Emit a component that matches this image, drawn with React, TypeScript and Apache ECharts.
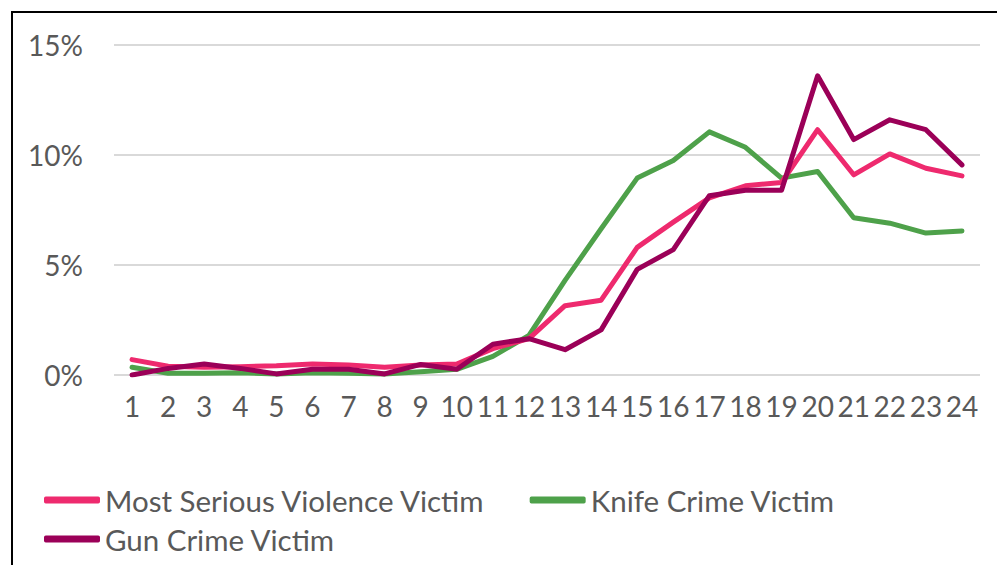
import React, { useEffect, useRef } from "react";
import * as echarts from "echarts";

const categories = ["1","2","3","4","5","6","7","8","9","10","11","12","13","14","15","16","17","18","19","20","21","22","23","24"];
const msvVictim = [0.7, 0.4, 0.35, 0.38, 0.42, 0.5, 0.45, 0.35, 0.45, 0.5, 1.2, 1.65, 3.15, 3.4, 5.8, 6.95, 8.05, 8.6, 8.75, 11.15, 9.1, 10.05, 9.4, 9.05];
const knifeVictim = [0.35, 0.08, 0.08, 0.1, 0.05, 0.1, 0.08, 0.05, 0.15, 0.26, 0.85, 1.8, 4.3, 6.65, 8.95, 9.75, 11.05, 10.35, 8.95, 9.25, 7.15, 6.9, 6.45, 6.55];
const gunVictim = [0.0, 0.3, 0.5, 0.3, 0.05, 0.26, 0.26, 0.05, 0.48, 0.26, 1.4, 1.65, 1.15, 2.05, 4.8, 5.7, 8.15, 8.4, 8.4, 13.6, 10.7, 11.6, 11.15, 9.55];
const yTicks = { min: 0, max: 15, interval: 5 };

const seriesNames = ["Most Serious Violence Victim", "Knife Crime Victim", "Gun Crime Victim"];
const colors = ["#EE2A6E", "#4EA14A", "#9B0058"];
const FONT = "Lato, 'Open Sans', sans-serif";
const TEXT = "#595959";

export default function App() {
  const ref = useRef<HTMLDivElement>(null);
  useEffect(() => {
    if (!ref.current) return;
    const chart = echarts.init(ref.current, undefined, { renderer: "svg" });
    const dataSets = [msvVictim, knifeVictim, gunVictim];
    const zs = [3, 2, 4];
    const legendCommon = {
      left: 44,
      padding: 0,
      orient: "horizontal",
      itemGap: 44,
      itemWidth: 56,
      itemHeight: 7,
      icon: "roundRect",
      textStyle: { color: TEXT, fontSize: 29.5, fontFamily: FONT },
    };
    chart.setOption({
      animation: false,
      backgroundColor: "#ffffff",
      textStyle: { fontFamily: FONT },
      grid: { left: 114, right: 17, top: 45, bottom: 190, containLabel: false },
      xAxis: {
        type: "category",
        data: categories,
        boundaryGap: true,
        axisLine: { show: false },
        axisTick: { show: false },
        axisLabel: { color: TEXT, fontSize: 28, fontFamily: FONT, margin: 17, interval: 0 },
      },
      yAxis: {
        type: "value",
        min: yTicks.min,
        max: yTicks.max,
        interval: yTicks.interval,
        axisLine: { show: false },
        axisTick: { show: false },
        axisLabel: { color: TEXT, fontSize: 28, fontFamily: FONT, margin: 31, formatter: "{value}%" },
        splitLine: { lineStyle: { color: "#D9D9D9", width: 2 } },
      },
      legend: [
        { ...legendCommon, data: [seriesNames[0], seriesNames[1]], top: 485 },
        { ...legendCommon, data: [seriesNames[2]], top: 524 },
      ],
      graphic: [
        { type: "line", shape: { x1: 12, y1: 12, x2: 12, y2: 565 }, style: { stroke: "#000", lineWidth: 2 } },
        { type: "line", shape: { x1: 11, y1: 12, x2: 997, y2: 12 }, style: { stroke: "#000", lineWidth: 2 } },
      ],
      series: seriesNames.map((name, i) => ({
        name,
        type: "line",
        data: dataSets[i],
        z: zs[i],
        symbol: "none",
        showSymbol: false,
        color: colors[i],
        lineStyle: { color: colors[i], width: 5, cap: "round", join: "round" },
      })),
    });
    return () => chart.dispose();
  }, []);
  return (
    <div
      ref={ref}
      style={{ position: "absolute", left: 0, top: 0, width: 997, height: 565 }}
    />
  );
}
